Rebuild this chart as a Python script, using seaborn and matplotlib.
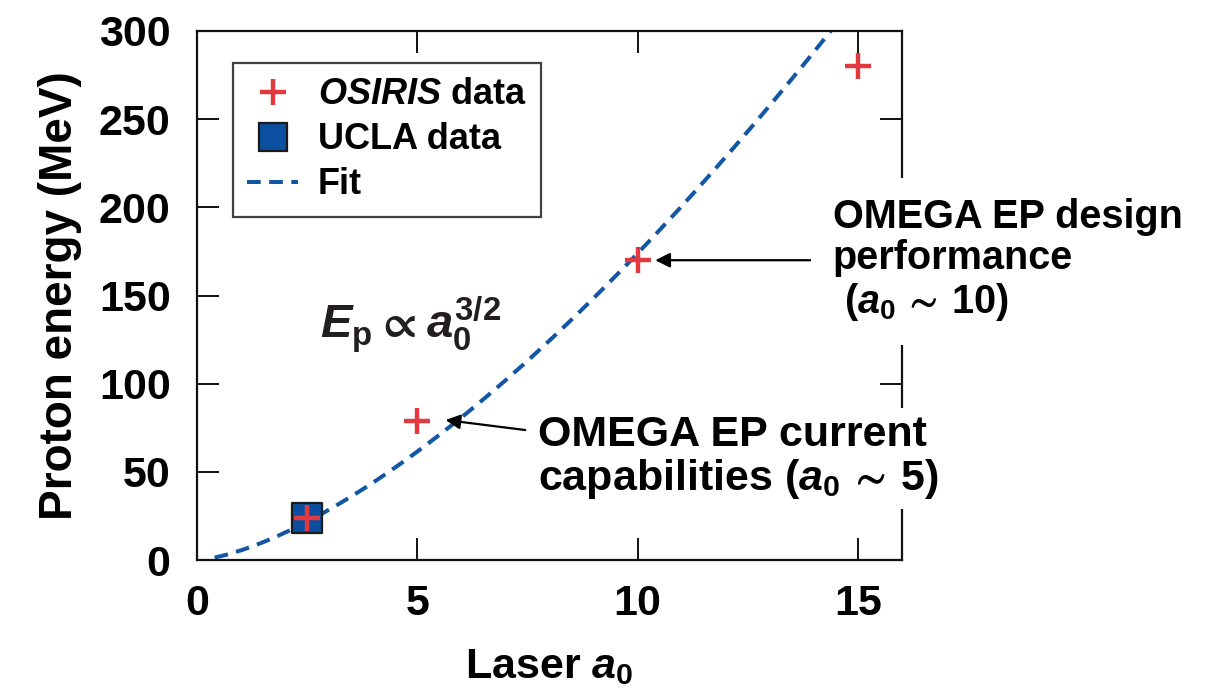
import numpy as np
import pandas as pd
import matplotlib
matplotlib.use("Agg")
import matplotlib.pyplot as plt
import seaborn as sns
from matplotlib.lines import Line2D

# Simulation and experiment points
osiris_a0 = [2.5, 5, 10, 15]
osiris_energy = [24, 79, 170, 280]
ucla_a0 = [2.5]
ucla_energy = [24]

# Power-law fit E_p = k * a0^(3/2)
fit_k = 5.5
fit_a0_start = 0.4
fit_a0_end = 14.42

x_ticks = [0, 5, 10, 15]
y_ticks = [0, 50, 100, 150, 200, 250, 300]

RED = "#E2393F"
BLUE = "#0B4FA0"
FIT_BLUE = "#1256A4"
INK = "#111111"

sns.set_theme(style="ticks")
plt.rcParams["font.family"] = ["Liberation Sans", "DejaVu Sans"]
plt.rcParams["font.weight"] = "bold"
plt.rcParams["text.color"] = "black"
plt.rcParams["axes.labelcolor"] = "black"
plt.rcParams["xtick.labelcolor"] = "black"
plt.rcParams["ytick.labelcolor"] = "black"
plt.rcParams["mathtext.fontset"] = "custom"
plt.rcParams["mathtext.rm"] = "Liberation Sans:bold"
plt.rcParams["mathtext.bf"] = "Liberation Sans:bold"
plt.rcParams["mathtext.it"] = "Liberation Sans:italic:bold"
plt.rcParams["mathtext.sf"] = "Liberation Sans:bold"
plt.rcParams["mathtext.fallback"] = "stixsans"

fig = plt.figure(figsize=(12.13, 6.88), dpi=100)
ax = fig.add_axes([197 / 1213, 1 - 560 / 688, 705 / 1213, 529 / 688])

fit_x = np.linspace(fit_a0_start, fit_a0_end, 200)
fit_df = pd.DataFrame({"a0": fit_x, "E": fit_k * fit_x ** 1.5})
sns.lineplot(data=fit_df, x="a0", y="E", ax=ax, color=FIT_BLUE, lw=2.9,
             linestyle=(0, (3.4, 2.1)), zorder=2)

ucla_df = pd.DataFrame({"a0": ucla_a0, "E": ucla_energy})
sns.scatterplot(data=ucla_df, x="a0", y="E", ax=ax, marker="s", s=22 ** 2,
                color=BLUE, edgecolor="#1a1a1a", linewidth=1.6, zorder=3)

osiris_df = pd.DataFrame({"a0": osiris_a0, "E": osiris_energy})
sns.scatterplot(data=osiris_df, x="a0", y="E", ax=ax, marker="+", s=19 ** 2,
                color=RED, linewidth=3.2, zorder=4)

ax.set_xlim(0, 16)
ax.set_ylim(0, 300)
ax.set_xticks(x_ticks)
ax.set_yticks(y_ticks)
ax.tick_params(direction="in", length=16, width=1.4, top=True, right=True,
               labelsize=31, color=INK)
ax.tick_params(axis="x", pad=17)
ax.tick_params(axis="y", pad=19)
for lab in ax.get_xticklabels() + ax.get_yticklabels():
    lab.set_fontweight("bold")
for sp in ax.spines.values():
    sp.set_linewidth(1.6)
    sp.set_color(INK)

ax.set_xlabel(r"Laser $a_0$", fontsize=31, fontweight="bold", labelpad=17)
ax.set_ylabel("Proton energy (MeV)", fontsize=33, fontweight="bold", labelpad=12)

# Legend
handles = [
    Line2D([], [], marker="+", linestyle="none", color=RED, markersize=19,
           markeredgewidth=3.2),
    Line2D([], [], marker="s", linestyle="none", markerfacecolor=BLUE,
           markeredgecolor="#1a1a1a", markersize=20, markeredgewidth=1.6),
    Line2D([], [], color=FIT_BLUE, lw=2.9, linestyle=(0, (3.4, 2.1))),
]
labels = [r"$\mathit{OSIRIS}$ data", "UCLA data", "Fit"]
leg = ax.legend(handles, labels, loc="upper left", bbox_to_anchor=(0.051, 0.94),
                fontsize=26, frameon=True, fancybox=False, handlelength=1.4,
                handletextpad=0.55, labelspacing=0.28, borderpad=0.4,
                borderaxespad=0)
leg.get_frame().set_edgecolor(INK)
leg.get_frame().set_linewidth(1.6)
for t in leg.get_texts():
    t.set_fontweight("bold")

# Scaling law
ax.text(2.8, 126, r"$\mathit{E}_\mathrm{p} \propto \mathit{a}_0^{3/2}$",
        fontsize=34, ha="left", va="baseline", color="#231F20")

# Annotations (white boxes hide the frame behind the text)
ax.text(14.43, 170,
        "OMEGA EP design\nperformance\n" + r" ($\mathit{a}_0\,\sim\,\mathrm{10}$)",
        fontsize=28.5, fontweight="bold", ha="left", va="center",
        linespacing=1.12, clip_on=False, zorder=5,
        bbox=dict(boxstyle="square,pad=0.55", facecolor="white",
                  edgecolor="none"))
ax.annotate("", xy=(10.4, 170), xytext=(14.16, 170),
            arrowprops=dict(arrowstyle="-|>", color="black", lw=1.6,
                            mutation_scale=22, shrinkA=0, shrinkB=0))

ax.text(7.73, 58,
        "OMEGA EP current\n" + r"capabilities ($\mathit{a}_0\,\sim\,\mathrm{5}$)",
        fontsize=31, fontweight="bold", ha="left", va="center",
        linespacing=1.05, clip_on=False, zorder=5,
        bbox=dict(boxstyle="square,pad=0.2", facecolor="white",
                  edgecolor="none"))
ax.annotate("", xy=(5.64, 79.4), xytext=(7.45, 73.7),
            arrowprops=dict(arrowstyle="-|>", color="black", lw=1.6,
                            mutation_scale=22, shrinkA=0, shrinkB=0))

fig.savefig("out.png", dpi=100)
